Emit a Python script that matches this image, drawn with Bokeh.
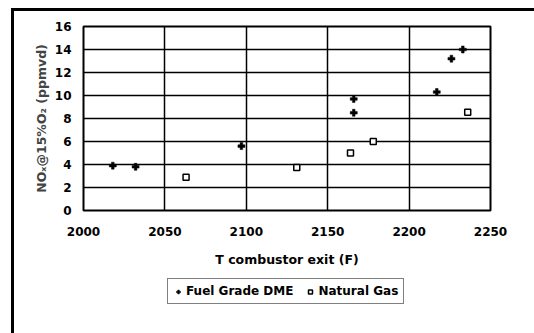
from bokeh.plotting import figure
from bokeh.layouts import column
from bokeh.models import Legend, LegendItem, FixedTicker, Range1d, ColumnDataSource
from bokeh.embed import file_html
from bokeh.resources import INLINE

# Data
dme_x = [2018, 2032, 2097, 2166, 2166, 2217, 2226, 2233]
dme_y = [3.9, 3.8, 5.6, 9.7, 8.5, 10.3, 13.2, 14.0]
ng_x = [2063, 2131, 2164, 2178, 2236]
ng_y = [2.9, 3.75, 5.0, 6.0, 8.55]

x_ticks = [2000, 2050, 2100, 2150, 2200, 2250]
y_ticks = [0, 2, 4, 6, 8, 10, 12, 14, 16]

x_title = "T combustor exit (F)"
y_title = "NOₓ@15%O₂ (ppmvd)"
series_names = ["Fuel Grade DME", "Natural Gas"]

FONT = "DejaVu Sans"

p = figure(width=520, height=260,
           min_border_left=69, min_border_right=44,
           min_border_top=15, min_border_bottom=61,
           x_range=Range1d(x_ticks[0], x_ticks[-1]),
           y_range=Range1d(y_ticks[0], y_ticks[-1]),
           output_backend="svg", toolbar_location=None)

p.background_fill_color = "white"
p.border_fill_color = "white"
p.outline_line_color = "black"
p.outline_line_width = 2

for ax in (p.xaxis, p.yaxis):
    ax.axis_line_color = None
    ax.major_tick_line_color = None
    ax.minor_tick_line_color = None
    ax.major_label_text_font = FONT
    ax.major_label_text_font_style = "bold"
    ax.major_label_text_font_size = "12px"
    ax.major_label_text_color = "black"
    ax.axis_label_text_font = FONT
    ax.axis_label_text_font_style = "bold"
    ax.axis_label_text_color = "black"

p.xaxis.ticker = FixedTicker(ticks=x_ticks)
p.yaxis.ticker = FixedTicker(ticks=y_ticks)
p.xaxis.major_label_standoff = 10
p.yaxis.major_label_standoff = 6
p.xaxis.axis_label = x_title
p.xaxis.axis_label_text_font_size = "12.5px"
p.xaxis.axis_label_standoff = 13
p.yaxis.axis_label = y_title
p.yaxis.axis_label_text_font_size = "12.5px"
p.yaxis.axis_label_text_color = "#444444"
p.yaxis.axis_label_standoff = 3

p.xgrid.ticker = FixedTicker(ticks=x_ticks)
p.ygrid.ticker = FixedTicker(ticks=y_ticks)
for g in (p.xgrid, p.ygrid):
    g.grid_line_color = "black"
    g.grid_line_width = 1.5

dme_src = ColumnDataSource(dict(x=dme_x, y=dme_y))
ng_src = ColumnDataSource(dict(x=ng_x, y=ng_y))

dme_style = dict(marker="plus", size=7, fill_color="black",
                 line_color="black", line_width=0.5)
ng_style = dict(marker="square", size=6, fill_color="white",
                line_color="black", line_width=1.5)

p.scatter("x", "y", source=dme_src, **dme_style)
p.scatter("x", "y", source=ng_src, **ng_style)

# Legend strip below the chart (separate canvas so the legend is not clipped)
lg = figure(width=520, height=62, min_border=0,
            x_range=Range1d(0, 1), y_range=Range1d(0, 1),
            x_axis_type=None, y_axis_type=None,
            output_backend="svg", toolbar_location=None)
lg.grid.visible = False
lg.outline_line_color = None
lg.background_fill_color = "white"
lg.border_fill_color = "white"
# legend keys: one point each, placed outside the visible range
k_dme = lg.scatter(x=[5], y=[5], **dme_style)
k_ng = lg.scatter(x=[5], y=[5], **ng_style)

legend = Legend(items=[LegendItem(label=series_names[0], renderers=[k_dme]),
                       LegendItem(label=series_names[1], renderers=[k_ng])],
                location=(84, 29), orientation="horizontal",
                border_line_color="black", border_line_width=1.5,
                background_fill_color="white", background_fill_alpha=1,
                label_text_font=FONT, label_text_font_style="bold",
                label_text_font_size="12px", label_text_color="black",
                glyph_width=10, glyph_height=13, label_height=13,
                label_standoff=3, spacing=12, padding=5, margin=0)
lg.add_layout(legend, "center")

page = column(p, lg, spacing=0)
# outer page frame (top and left edges visible in the reference)
page.styles = {"margin-left": "11px", "margin-top": "8px",
               "border-top": "3px solid black", "border-left": "3px solid black"}

open("out.html", "w").write(file_html(page, INLINE))
